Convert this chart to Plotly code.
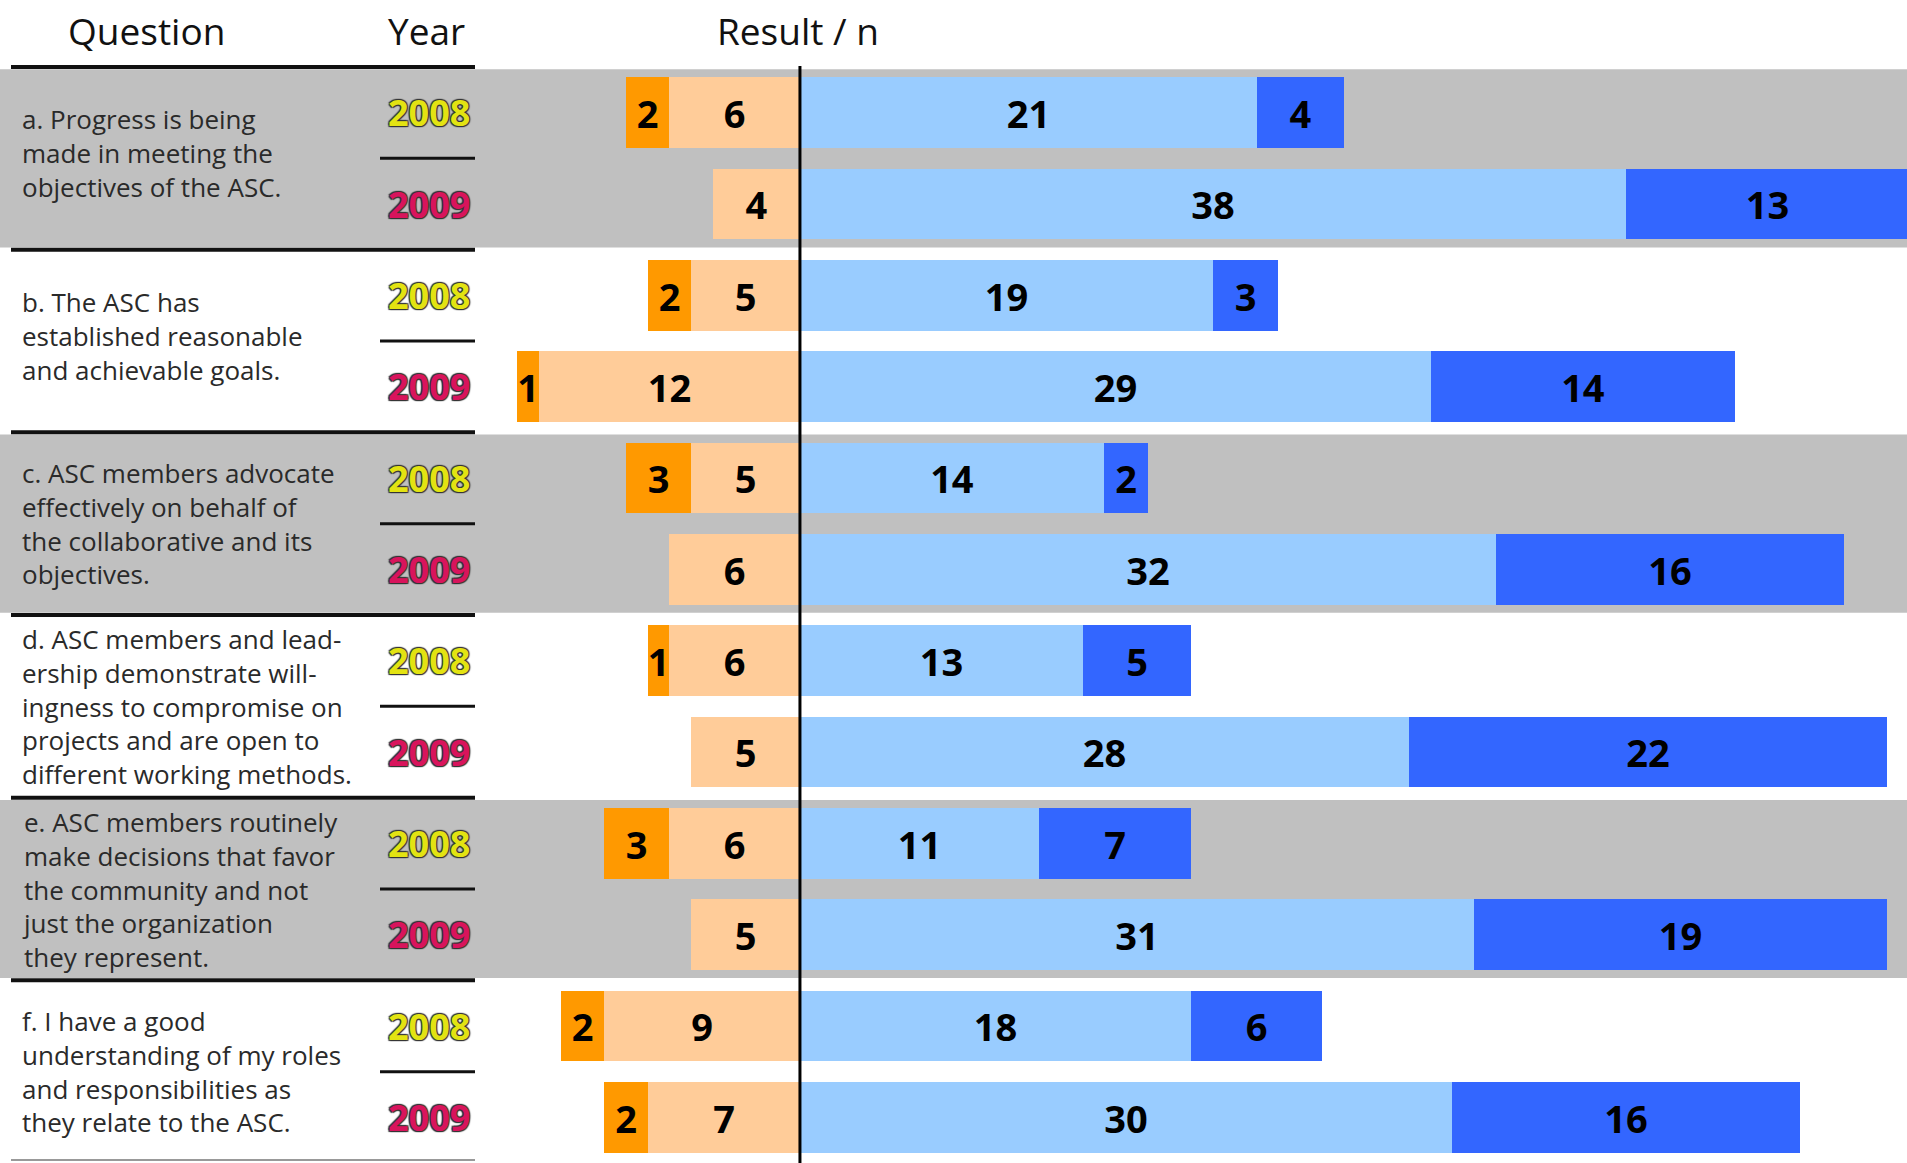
import plotly.graph_objects as go

# ---------------- data ----------------
questions = [
    ["a. Progress is being", "made in meeting the", "objectives of the ASC."],
    ["b. The ASC has", "established reasonable", "and achievable goals."],
    ["c. ASC members advocate", "effectively on behalf of", "the collaborative and its", "objectives."],
    ["d. ASC members and lead-", "ership demonstrate will-", "ingness to compromise on", "projects and are open to", "different working methods."],
    ["e. ASC members routinely", "make decisions that favor", "the community and not", "just the organization", "they represent."],
    ["f. I have a good", "understanding of my roles", "and responsibilities as", "they relate to the ASC."],
]
years = ["2008", "2009"]

# rows in order: a-2008, a-2009, b-2008, b-2009, ... f-2009
strong_neg = [2, 0, 2, 1, 3, 0, 1, 0, 3, 0, 2, 2]      # dark orange
neg = [6, 4, 5, 12, 5, 6, 6, 5, 6, 5, 9, 7]            # light orange
pos = [21, 38, 19, 29, 14, 32, 13, 28, 11, 31, 18, 30]  # light blue
strong_pos = [4, 13, 3, 14, 2, 16, 5, 22, 7, 19, 6, 16]  # blue

# ---------------- layout constants ----------------
W, H = 1907, 1163
TOP = 67
PLOT_H = H - TOP
N_ROWS = len(strong_neg)
X_MIN, X_MAX = -36.78, 50.9

C_DARK_OR = "#FF9900"
C_LIGHT_OR = "#FFCC99"
C_LIGHT_BL = "#99CCFF"
C_BLUE = "#3366FF"
C_GRAY = "#C0C0C0"
YEAR_COLORS = {"2008": "#E3E312", "2009": "#D8145C"}
FONT = "Open Sans"


def row_paper(r):
    return 1 - (r + 0.5) / N_ROWS


def ypx_paper(px):
    return 1 - (px - TOP) / PLOT_H


def xpx_paper(px):
    return px / W


rows = list(range(N_ROWS))


def lab(vals):
    return [str(v) if v else "" for v in vals]


fig = go.Figure()
bar_kw = dict(orientation="h", width=0.773, textposition="inside",
              insidetextanchor="middle", constraintext="none", textangle=0,
              textfont=dict(family=FONT, size=38, color="black", weight="bold"),
              marker_line_width=0, hoverinfo="skip", showlegend=False)

fig.add_trace(go.Bar(y=rows, x=[-v for v in neg], text=lab(neg),
                     marker_color=C_LIGHT_OR, name="Disagree", **bar_kw))
fig.add_trace(go.Bar(y=rows, x=[-v for v in strong_neg], text=lab(strong_neg),
                     marker_color=C_DARK_OR, name="Strongly disagree", **bar_kw))
fig.add_trace(go.Bar(y=rows, x=pos, text=lab(pos),
                     marker_color=C_LIGHT_BL, name="Agree", **bar_kw))
fig.add_trace(go.Bar(y=rows, x=strong_pos, text=lab(strong_pos),
                     marker_color=C_BLUE, name="Strongly agree", **bar_kw))

shapes = []
# gray bands for alternate question groups
for g in range(len(questions)):
    if g % 2 == 0:
        shapes.append(dict(type="rect", xref="paper", yref="paper",
                           x0=0, x1=1,
                           y0=row_paper(2 * g + 1.475), y1=row_paper(2 * g - 0.475),
                           fillcolor=C_GRAY, line_width=0, layer="below"))
# thick group separators on the table side
for g in range(len(questions)):
    shapes.append(dict(type="line", xref="paper", yref="paper",
                       x0=xpx_paper(11), x1=xpx_paper(475),
                       y0=row_paper(2 * g - 0.5), y1=row_paper(2 * g - 0.5),
                       line=dict(color="#111111", width=4)))
shapes.append(dict(type="line", xref="paper", yref="paper",
                   x0=xpx_paper(11), x1=xpx_paper(475),
                   y0=ypx_paper(1160), y1=ypx_paper(1160),
                   line=dict(color="#999999", width=2)))
# short year separators
for g in range(len(questions)):
    shapes.append(dict(type="line", xref="paper", yref="paper",
                       x0=xpx_paper(380), x1=xpx_paper(475),
                       y0=row_paper(2 * g + 0.5), y1=row_paper(2 * g + 0.5),
                       line=dict(color="#111111", width=3)))
# zero line
shapes.append(dict(type="line", xref="x", yref="paper", x0=0, x1=0,
                   y0=0, y1=ypx_paper(66), line=dict(color="black", width=3),
                   layer="above"))

annotations = []
for text, xc in [("Question", 146), ("Year", 426), ("Result / n", 798)]:
    annotations.append(dict(text=text, xref="paper", yref="paper",
                            x=xpx_paper(xc), y=ypx_paper(30), xanchor="center",
                            yanchor="middle", showarrow=False,
                            font=dict(family=FONT, size=37, color="#111111")))
for g, q in enumerate(questions):
    annotations.append(dict(text="<br>".join(q), xref="paper", yref="y",
                            x=xpx_paper(20), y=2 * g + 0.5, xanchor="left",
                            yanchor="middle", align="left", showarrow=False,
                            yshift=5 if len(q) == 3 else 0,
                            font=dict(family=FONT, size=26, color="#2a2a2a")))
    for k, yr in enumerate(years):
        annotations.append(dict(text=yr, xref="paper", yref="y",
                                x=xpx_paper(429), y=2 * g + k, xanchor="center",
                                yanchor="middle", showarrow=False,
                                font=dict(family=FONT, size=36, weight="bold",
                                          color=YEAR_COLORS[yr],
                                          shadow="-1px -1px 1px #333, 1px -1px 1px #333, -1px 1px 1px #333, 1px 1px 1px #333")))

fig.update_layout(
    width=W, height=H,
    margin=dict(l=0, r=0, t=TOP, b=0, pad=0),
    barmode="relative", bargap=0,
    paper_bgcolor="white", plot_bgcolor="white",
    xaxis=dict(range=[X_MIN, X_MAX], visible=False, fixedrange=True),
    yaxis=dict(range=[N_ROWS - 0.5, -0.5], visible=False, fixedrange=True),
    uniformtext=dict(minsize=38, mode="show"),
    shapes=shapes, annotations=annotations,
    font=dict(family=FONT),
)

fig.write_html("out.html", config={"displayModeBar": False},
               post_script="document.body.style.margin='0';document.body.style.padding='0';")
